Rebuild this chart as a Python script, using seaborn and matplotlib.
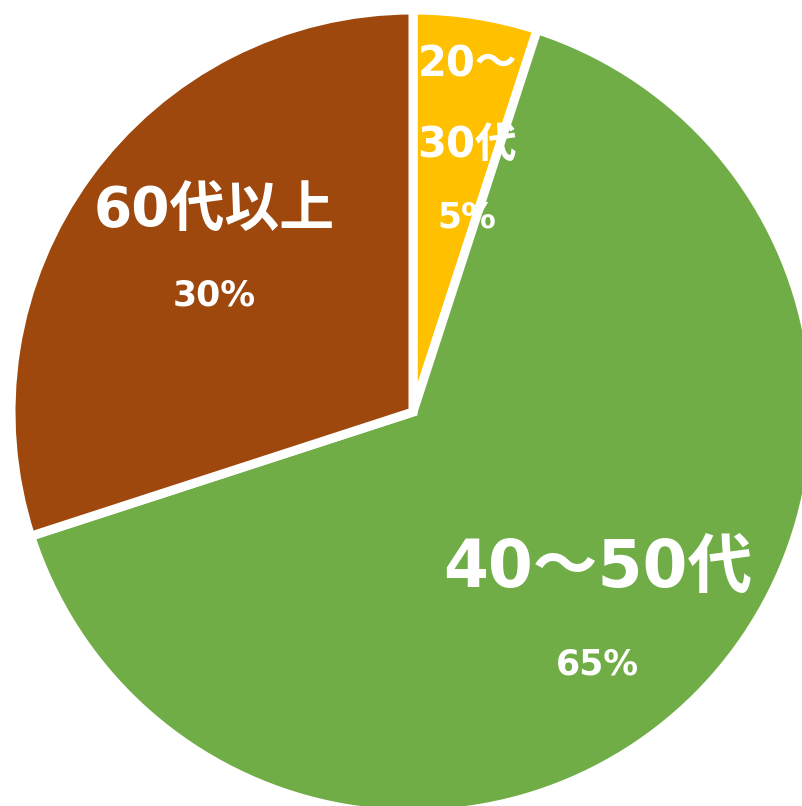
import matplotlib
matplotlib.use("Agg")
import matplotlib.pyplot as plt
import seaborn as sns

# data
categories = ['20～30代', '40～50代', '60代以上']
shares = [5, 65, 30]
colors = ['#FFC000', '#70AD47', '#9E480E']

sns.set_style("white")
plt.rcParams['font.family'] = ['DejaVu Sans', 'Noto Sans CJK JP']

W, H = 803, 806
fig = plt.figure(figsize=(W / 100, H / 100), dpi=100)
cx, cy, R = 413, 412, 402
ax = fig.add_axes([(cx - R) / W, (H - cy - R) / H, 2 * R / W, 2 * R / H])

ax.pie(shares, colors=colors, startangle=90, counterclock=False,
       radius=1, wedgeprops=dict(edgecolor='white', linewidth=6.5))
ax.set_xlim(-1, 1)
ax.set_ylim(-1, 1)
ax.set_aspect('equal')
ax.axis('off')

# label placement (name position, percent position, name size)
label_pos = {
    '20～30代': ((0.135, 0.765), (0.135, 0.485), 30),
    '40～50代': ((0.46, -0.39), (0.46, -0.628), 46.5),
    '60代以上': ((-0.495, 0.5), (-0.495, 0.29), 39.5),
}
for cat, val in zip(categories, shares):
    (nx, ny), (px, py), fs = label_pos[cat]
    name = cat.replace('～', '～\n') if cat == '20～30代' else cat
    ax.text(nx, ny, name, ha='center', va='center', color='white',
            fontsize=fs, fontweight='bold', linespacing=2.15)
    ax.text(px, py, f'{val}%', ha='center', va='center', color='white',
            fontsize=25, fontweight='bold')

fig.savefig('out.png', dpi=100)
